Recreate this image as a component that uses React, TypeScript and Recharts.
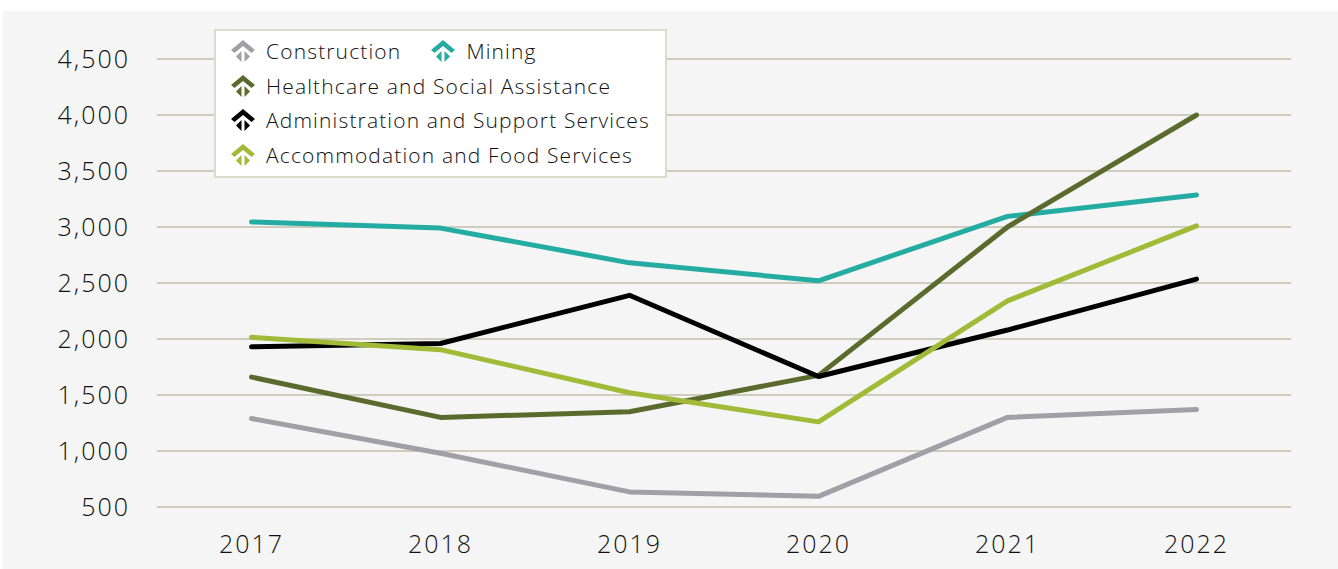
import React from 'react';
import { LineChart, Line, XAxis, YAxis, CartesianGrid } from 'recharts';

const years = ['2017', '2018', '2019', '2020', '2021', '2022'];
const construction = [1290, 980, 635, 595, 1300, 1370];
const mining = [3045, 2990, 2680, 2520, 3095, 3285];
const healthcare = [1660, 1300, 1350, 1675, 3000, 4000];
const administration = [1930, 1960, 2390, 1665, 2080, 2535];
const accommodation = [2015, 1905, 1520, 1260, 2340, 3010];
const yTicks = [500, 1000, 1500, 2000, 2500, 3000, 3500, 4000, 4500];

const seriesNames = {
  construction: 'Construction',
  mining: 'Mining',
  healthcare: 'Healthcare and Social Assistance',
  administration: 'Administration and Support Services',
  accommodation: 'Accommodation and Food Services',
};

const colors = {
  construction: '#a0a0a6',
  mining: '#25aca2',
  healthcare: '#5b6b2e',
  administration: '#000000',
  accommodation: '#a2ba38',
};

const data = years.map((y, i) => ({
  year: y,
  construction: construction[i],
  mining: mining[i],
  healthcare: healthcare[i],
  administration: administration[i],
  accommodation: accommodation[i],
}));

const FONT = '"Open Sans", "DejaVu Sans", sans-serif';

const Icon = ({ color }: { color: string }) => (
  <svg width={26} height={24} viewBox="0 0 26 24" style={{ display: 'block' }}>
    <polygon points="1,11 13,1 25,11 21.5,14 13,7 4.5,14" fill={color} />
    <polygon points="11.5,12 11.5,23 6,17.5" fill={color} />
    <polygon points="14.5,12 14.5,23 20,17.5" fill={color} />
  </svg>
);

const ROW = 34.6;

const Item = ({ k, style }: { k: keyof typeof colors; style?: React.CSSProperties }) => (
  <div style={{ display: 'flex', alignItems: 'center', height: ROW, ...style }}>
    <Icon color={colors[k]} />
    <span style={{ marginLeft: 10 }}>{seriesNames[k]}</span>
  </div>
);

const LegendBox = () => (
  <div
    style={{
      position: 'absolute',
      left: 214,
      top: 29,
      boxSizing: 'border-box',
      width: 453,
      height: 149,
      background: '#ffffff',
      border: '2px solid #dcdccd',
      paddingLeft: 14,
      paddingTop: 3,
      fontFamily: FONT,
      fontSize: 21,
      fontWeight: 300,
      letterSpacing: 1.15,
      color: '#111111',
      whiteSpace: 'nowrap',
    }}
  >
    <div style={{ display: 'flex' }}>
      <Item k="construction" />
      <Item k="mining" style={{ marginLeft: 29 }} />
    </div>
    <Item k="healthcare" />
    <Item k="administration" />
    <Item k="accommodation" />
  </div>
);

const tickStyle = { fill: '#111111', fontSize: 25, fontFamily: FONT, fontWeight: 300, letterSpacing: 2 };

export default function App() {
  return (
    <div style={{ position: 'absolute', left: 0, top: 0, width: 1338, height: 569, background: '#ffffff', overflow: 'hidden' }}>
      <div style={{ position: 'absolute', left: 3, top: 11, width: 1335, height: 558, background: '#f5f5f5' }}>
        <LineChart
          width={1335}
          height={558}
          data={data}
          margin={{ top: 48, right: 47, bottom: 0, left: 0 }}
        >
          <CartesianGrid horizontal vertical={false} stroke="#cdccbd" strokeWidth={2} />
          <XAxis
            dataKey="year"
            scale="band"
            axisLine={false}
            tickLine={false}
            height={62}
            tickMargin={22}
            tick={tickStyle}
          />
          <YAxis
            domain={[500, 4500]}
            ticks={yTicks}
            axisLine={false}
            tickLine={false}
            width={154}
            tickMargin={21}
            interval={0}
            tickFormatter={(v: number) => v.toLocaleString('en-US')}
            tick={tickStyle}
          />
          {(Object.keys(colors) as (keyof typeof colors)[]).map((k) => (
            <Line
              key={k}
              type="linear"
              dataKey={k}
              name={seriesNames[k]}
              stroke={colors[k]}
              strokeWidth={5}
              strokeLinecap="round"
              strokeLinejoin="round"
              dot={false}
              activeDot={false}
              isAnimationActive={false}
            />
          ))}
        </LineChart>
      </div>
      <LegendBox />
    </div>
  );
}
